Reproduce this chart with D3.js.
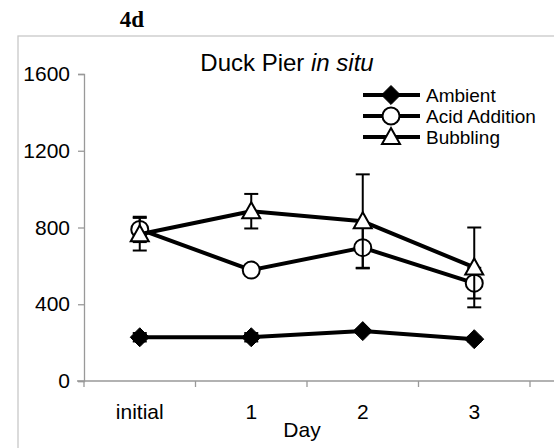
<!DOCTYPE html>
<html><head><meta charset="utf-8">
<script src="https://cdn.jsdelivr.net/npm/d3@7"></script>
<style>body{margin:0;background:#fff;}svg{display:block;font-family:Arial,"Liberation Sans",sans-serif;}</style>
</head><body>
<svg id="c" width="554" height="448"></svg>
<script>
const categories = ["initial", "1", "2", "3"];
const seriesNames = ["Ambient", "Acid Addition", "Bubbling"];
const ambient = [228, 228, 260, 218];
const ambientErr = [22, 22, 10, 12];
const acid = [790, 578, 695, 510];
const acidErr = [66, 12, 105, 80];
const bubbling = [765, 885, 832, 592];
const bubblingErr = [85, 90, 245, 208];
const yTicks = [0, 400, 800, 1200, 1600];

const svg = d3.select("#c");
const W = 554, H = 448;

// outer frame
svg.append("rect").attr("x", 18).attr("y", 36).attr("width", 600).attr("height", 500)
  .attr("fill", "none").attr("stroke", "#c8c8c8").attr("stroke-width", 1.3);

// figure label
svg.append("text").attr("x", 132).attr("y", 27).attr("text-anchor", "middle")
  .style("font-family", "'Liberation Serif','Times New Roman',serif").style("font-weight", "bold")
  .style("font-size", "23px").text("4d");

const x = d3.scaleBand().domain(categories).range([84, 530]).paddingInner(0).paddingOuter(0);
const y = d3.scaleLinear().domain([0, 1600]).range([381, 74]);

// y axis
const yAxis = svg.append("g").attr("transform", `translate(${x.range()[0]},0)`)
  .call(d3.axisLeft(y).tickValues(yTicks).tickSize(6).tickPadding(8).tickFormat(d3.format("d")));
yAxis.select(".domain").attr("stroke", "#999").attr("stroke-width", 1.3);
yAxis.selectAll(".tick line").attr("stroke", "#999").attr("stroke-width", 1.3);
yAxis.selectAll(".tick text").style("font-size", "21px").attr("fill", "#000")
  .style("font-family", "Arial,'Liberation Sans',sans-serif");

// x axis
const xg = svg.append("g").attr("transform", `translate(0,${y(0)})`);
xg.append("line").attr("x1", x.range()[0] - 7).attr("x2", W).attr("y1", 0).attr("y2", 0)
  .attr("stroke", "#999").attr("stroke-width", 1.3);
const bounds = categories.map(c => x(c)).concat([x.range()[1]]);
xg.selectAll("line.tk").data(bounds).join("line").attr("class", "tk")
  .attr("x1", d => d).attr("x2", d => d).attr("y1", 0).attr("y2", 6)
  .attr("stroke", "#999").attr("stroke-width", 1.3);
xg.selectAll("text").data(categories).join("text")
  .attr("x", d => x(d) + x.bandwidth() / 2).attr("y", 38).attr("text-anchor", "middle")
  .style("font-size", "21px").text(d => d);

svg.append("text").attr("x", 302).attr("y", 437).attr("text-anchor", "middle")
  .style("font-size", "21px").text("Day");

// title
const t = svg.append("text").attr("x", 287).attr("y", 71).attr("text-anchor", "middle").style("font-size", "24px");
t.append("tspan").text("Duck Pier ");
t.append("tspan").style("font-style", "italic").text("in situ");

const cx = d => x(d) + x.bandwidth() / 2;

function marker(g, type, px, py) {
  if (type === 0) {
    g.append("path").attr("d", d3.symbol(d3.symbolDiamond2, 230)())
      .attr("transform", `translate(${px},${py})`).attr("fill", "#000").attr("stroke", "#000").attr("stroke-width", 1);
  } else if (type === 1) {
    g.append("circle").attr("cx", px).attr("cy", py).attr("r", 8.5)
      .attr("fill", "#fff").attr("stroke", "#000").attr("stroke-width", 2);
  } else {
    g.append("path").attr("d", "M0,-9 L9,7 L-9,7 Z")
      .attr("transform", `translate(${px},${py})`).attr("fill", "#fff").attr("stroke", "#000").attr("stroke-width", 2);
  }
}

const series = [
  { vals: ambient, err: ambientErr },
  { vals: acid, err: acidErr },
  { vals: bubbling, err: bubblingErr }
];

const line = d3.line().x(d => cx(d.c)).y(d => y(d.v));

series.forEach((s, si) => {
  const g = svg.append("g");
  const pts = categories.map((c, i) => ({ c, v: s.vals[i], e: s.err[i] }));
  g.append("path").datum(pts).attr("d", line).attr("fill", "none").attr("stroke", "#000")
    .attr("stroke-width", 4).attr("stroke-linejoin", "round");
  pts.forEach(p => {
    const px = cx(p.c);
    g.append("line").attr("x1", px).attr("x2", px).attr("y1", y(p.v + p.e)).attr("y2", y(p.v - p.e))
      .attr("stroke", "#000").attr("stroke-width", 2);
    [p.v + p.e, p.v - p.e].forEach(v => {
      g.append("line").attr("x1", px - 7).attr("x2", px + 7).attr("y1", y(v)).attr("y2", y(v))
        .attr("stroke", "#000").attr("stroke-width", 2);
    });
  });
  pts.forEach(p => marker(g, si, cx(p.c), y(p.v)));
});

// legend
const lg = svg.append("g");
const rowsY = [95, 116, 137];
seriesNames.forEach((n, i) => {
  lg.append("line").attr("x1", 363).attr("x2", 420).attr("y1", rowsY[i]).attr("y2", rowsY[i])
    .attr("stroke", "#000").attr("stroke-width", 4);
  marker(lg, i, 391, rowsY[i]);
  lg.append("text").attr("x", 426).attr("y", rowsY[i] + 7).style("font-size", "19px").text(n);
});
</script>
</body></html>
